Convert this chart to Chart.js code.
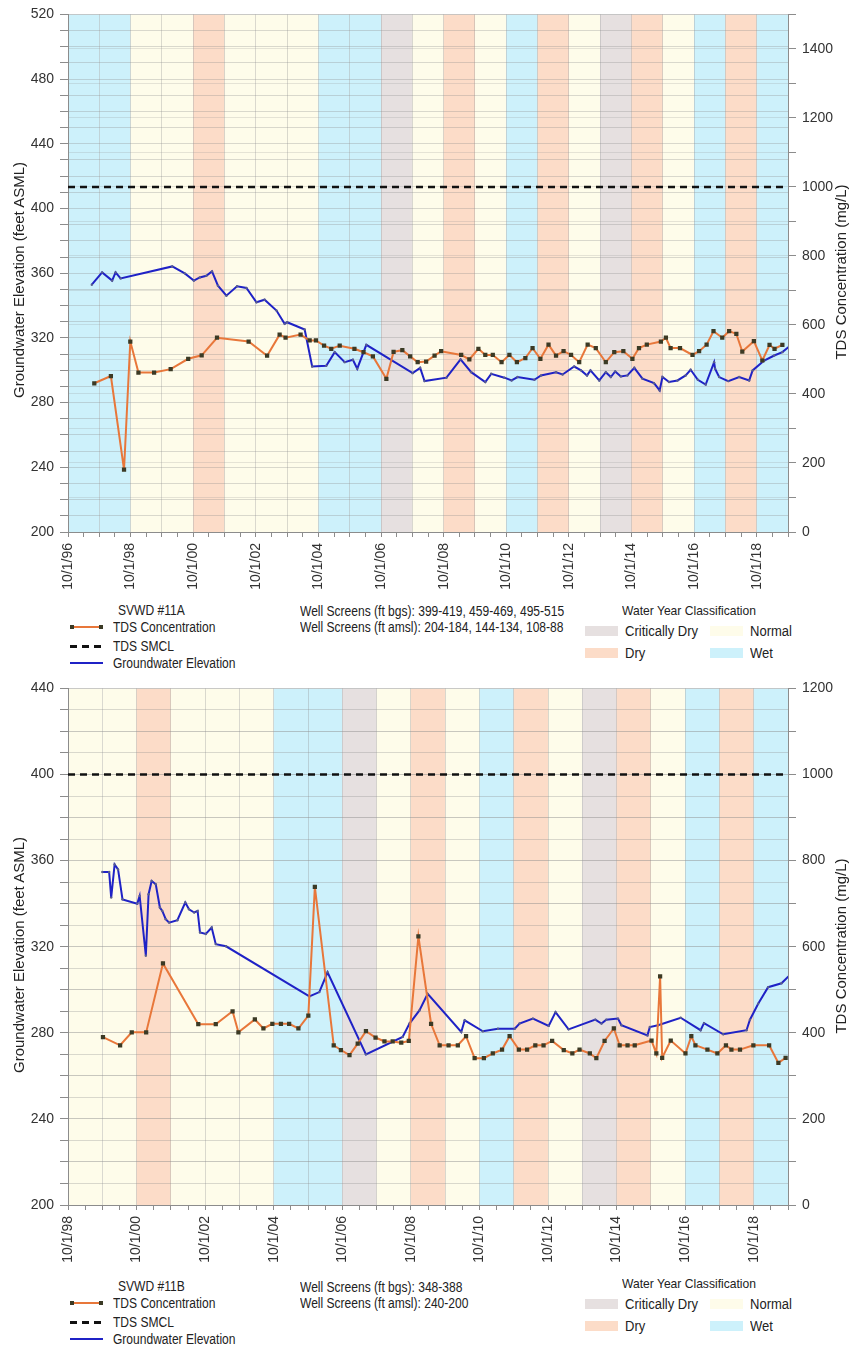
<!DOCTYPE html>
<html>
<head>
<meta charset="utf-8">
<title>SVWD #11A / #11B</title>
<script src="https://cdn.jsdelivr.net/npm/chart.js@4.4.1/dist/chart.umd.min.js"></script>
<style>
  body { margin: 0; background: #fff; }
  #page { position: relative; width: 855px; height: 1349px; overflow: hidden; font-family: "Liberation Sans", Arial, sans-serif; color: #222; }
  .plot { position: absolute; left: 0; width: 855px; height: 600px; }
  .axis-title { position: absolute; white-space: nowrap; font-size: 15px; transform: translate(-50%, -50%) rotate(-90deg); }
  /* the legend text in the original is a condensed face */
  .lg { position: absolute; font-family: "Liberation Sans", Arial, sans-serif; font-size: 14px; line-height: 16px; white-space: nowrap; color: #222;
        transform: scaleX(0.86); transform-origin: 0 50%; }
  .lg.wide { transform: scaleX(0.93); }
  .sw { position: absolute; }
</style>
</head>
<body>
<div id="page">
  <div class="plot" style="top:0"><canvas id="chartA"></canvas></div>
  <div class="plot" style="top:674px"><canvas id="chartB"></canvas></div>
</div>
<script>
// water years run 10/1 of the previous year to 9/30 of this year
const waterYears = [1997, 1998, 1999, 2000, 2001, 2002, 2003, 2004, 2005, 2006, 2007, 2008,
                    2009, 2010, 2011, 2012, 2013, 2014, 2015, 2016, 2017, 2018, 2019];
const waterYearClass = ['Wet', 'Wet', 'Normal', 'Normal', 'Dry', 'Normal', 'Normal', 'Normal',
                        'Wet', 'Wet', 'Critically Dry', 'Normal', 'Dry', 'Normal', 'Wet', 'Dry',
                        'Normal', 'Critically Dry', 'Dry', 'Normal', 'Wet', 'Dry', 'Wet'];

const tdsSmcl = 1000;

// SVWD #11A  (dates as decimal years)
const tdsDatesA = [1997.59, 1998.12, 1998.54, 1998.74, 1999.00, 1999.50, 2000.03, 2000.59, 2001.02, 2001.51,
                   2002.52, 2003.11, 2003.51, 2003.70, 2004.18, 2004.47, 2004.67, 2004.93, 2005.16, 2005.43,
                   2005.90, 2006.19, 2006.49, 2006.92, 2007.15, 2007.43, 2007.68, 2007.92, 2008.19, 2008.46,
                   2008.67, 2009.31, 2009.57, 2009.86, 2010.08, 2010.32, 2010.60, 2010.85, 2011.09, 2011.36,
                   2011.59, 2011.84, 2012.10, 2012.34, 2012.58, 2012.82, 2013.08, 2013.35, 2013.61, 2013.93,
                   2014.20, 2014.49, 2014.78, 2014.99, 2015.24, 2015.69, 2015.85, 2016.00, 2016.30, 2016.70,
                   2016.91, 2017.15, 2017.37, 2017.65, 2017.87, 2018.10, 2018.29, 2018.66, 2018.93, 2019.16,
                   2019.32, 2019.57];
const tdsValuesA = [431, 452, 181, 552, 462, 462, 472, 502, 512, 563,
                    552, 511, 572, 563, 572, 555, 555, 540, 531, 540,
                    531, 521, 509, 444, 522, 527, 509, 492, 494, 511,
                    524, 513, 500, 531, 513, 513, 492, 513, 492, 504,
                    533, 502, 543, 511, 524, 513, 492, 543, 533, 492,
                    521, 524, 502, 533, 543, 552, 563, 533, 533, 513,
                    524, 543, 582, 563, 582, 574, 523, 553, 497, 542,
                    531, 542];
const gweDatesA = [1997.51, 1997.84, 1998.16, 1998.27, 1998.43, 2000.08, 2000.48, 2000.77, 2000.96, 2001.17,
                   2001.35, 2001.54, 2001.81, 2002.15, 2002.45, 2002.77, 2003.03, 2003.41, 2003.67, 2003.75,
                   2004.31, 2004.55, 2005.00, 2005.27, 2005.59, 2005.85, 2005.99, 2006.28, 2007.76, 2008.00,
                   2008.14, 2008.84, 2009.29, 2009.63, 2010.08, 2010.27, 2010.69, 2010.92, 2011.11, 2011.65,
                   2011.86, 2012.34, 2012.55, 2012.92, 2013.14, 2013.33, 2013.44, 2013.72, 2013.93, 2014.09,
                   2014.23, 2014.41, 2014.62, 2014.84, 2015.10, 2015.47, 2015.65, 2015.74, 2015.95, 2016.22,
                   2016.48, 2016.64, 2016.87, 2017.12, 2017.39, 2017.42, 2017.55, 2017.84, 2018.19, 2018.51,
                   2018.62, 2018.99, 2019.31, 2019.57, 2019.79];
const gweValuesA = [352.9, 360.5, 355.4, 360.5, 356.8, 364.2, 359.9, 355.4, 357.4, 358.4,
                    361.1, 352.3, 346.1, 351.9, 350.9, 342.0, 343.6, 336.9, 328.7, 329.7,
                    325.2, 302.3, 302.8, 311.2, 305.0, 306.5, 301.0, 315.7, 298.2, 301.5,
                    293.3, 295.4, 306.7, 298.8, 292.7, 297.8, 295.4, 293.7, 295.8, 294.1,
                    296.8, 298.8, 297.4, 302.3, 299.9, 296.8, 299.9, 293.7, 298.8, 295.8,
                    299.3, 296.2, 296.8, 301.5, 294.8, 292.0, 287.5, 295.8, 292.7, 293.7,
                    296.8, 300.3, 294.1, 291.2, 305.0, 301.0, 295.8, 293.3, 295.8, 293.7,
                    299.9, 306.0, 309.1, 311.2, 314.7];

// SVWD #11B
const tdsDatesB = [1999.77, 2000.27, 2000.61, 2001.03, 2001.52, 2002.55, 2003.06, 2003.55, 2003.72, 2004.20,
                   2004.45, 2004.71, 2004.96, 2005.20, 2005.47, 2005.76, 2005.95, 2006.50, 2006.71, 2006.96,
                   2007.20, 2007.44, 2007.72, 2007.98, 2008.22, 2008.47, 2008.69, 2008.97, 2009.34, 2009.59,
                   2009.85, 2010.12, 2010.36, 2010.61, 2010.88, 2011.14, 2011.41, 2011.63, 2011.90, 2012.14,
                   2012.38, 2012.62, 2012.87, 2013.21, 2013.46, 2013.67, 2013.97, 2014.16, 2014.40, 2014.67,
                   2014.84, 2015.07, 2015.28, 2015.77, 2015.91, 2016.02, 2016.08, 2016.33, 2016.76, 2016.93,
                   2017.05, 2017.40, 2017.69, 2017.94, 2018.10, 2018.35, 2018.74, 2019.20, 2019.47, 2019.68];
const tdsValuesB = [390, 371, 401, 401, 561, 420, 420, 450, 401, 431,
                    410, 421, 421, 421, 410, 440, 739, 371, 360, 348,
                    375, 404, 389, 380, 380, 377, 381, 624, 421, 371,
                    371, 371, 392, 341, 341, 352, 361, 392, 361, 361,
                    371, 371, 381, 360, 352, 361, 352, 341, 381, 410,
                    371, 371, 371, 382, 352, 531, 342, 382, 352, 392,
                    371, 361, 352, 371, 361, 361, 371, 371, 330, 342];
const gweDatesB = [1999.75, 1999.95, 2000.01, 2000.11, 2000.21, 2000.34, 2000.77, 2000.84, 2001.02, 2001.10,
                   2001.19, 2001.31, 2001.43, 2001.50, 2001.60, 2001.70, 2001.94, 2002.17, 2002.28, 2002.43,
                   2002.53, 2002.60, 2002.77, 2002.94, 2003.06, 2003.36, 2005.79, 2006.08, 2006.32, 2007.44,
                   2008.51, 2008.71, 2009.00, 2009.24, 2010.22, 2010.32, 2010.85, 2011.29, 2011.78, 2011.92,
                   2012.31, 2012.77, 2012.97, 2013.35, 2014.13, 2014.31, 2014.45, 2014.79, 2014.89, 2015.65,
                   2015.72, 2015.96, 2016.62, 2017.20, 2017.30, 2017.86, 2018.54, 2018.64, 2018.88, 2019.17,
                   2019.56, 2019.86];
const gweValuesB = [354.7, 354.7, 342.8, 358.2, 355.9, 342.0, 340.0, 343.6, 315.8, 344.4,
                    350.5, 349.0, 338.2, 336.6, 332.8, 331.2, 332.3, 340.5, 337.4, 335.9,
                    336.6, 326.6, 325.9, 328.9, 321.2, 320.2, 296.9, 298.9, 308.1, 270.0,
                    278.1, 284.3, 290.4, 298.1, 280.4, 285.8, 280.7, 281.9, 281.9, 284.3,
                    286.6, 283.2, 289.6, 281.6, 286.1, 284.3, 286.1, 286.6, 283.5, 278.8,
                    282.7, 283.5, 287.0, 281.2, 284.5, 279.3, 281.2, 286.1, 293.5, 301.2,
                    303.0, 307.7];

const classColors = { 'Wet': '#cdf1fb', 'Normal': '#fefcea', 'Dry': '#fcdcc8', 'Critically Dry': '#e6e0e0' };
const gridCol = 'rgba(140,140,140,0.32)';
const axisCol = '#8c8c8c';

Chart.defaults.font.family = '"Liberation Sans", Arial, sans-serif';
Chart.defaults.color = '#333';

const waterYearBands = {
  id: 'waterYearBands',
  beforeDraw(chart) {
    const {ctx, chartArea: a, scales: {x}} = chart;
    ctx.save();
    ctx.beginPath();
    ctx.rect(a.left, a.top, a.width, a.height);
    ctx.clip();
    waterYears.forEach((wy, i) => {
      const x0 = x.getPixelForValue(wy - 0.25);
      const x1 = x.getPixelForValue(wy + 0.75);
      ctx.fillStyle = classColors[waterYearClass[i]];
      ctx.fillRect(x0, a.top, x1 - x0, a.height);
    });
    ctx.restore();
  }
};

function stepTicks(min, max, step) {
  const ticks = [];
  const n = Math.round((max - min) / step);
  for (let i = 0; i <= n; i++) ticks.push({value: +(min + i * step).toFixed(4)});
  return ticks;
}

function isWholeYear(v) {
  return Math.abs((v - 0.75) - Math.round(v - 0.75)) < 1e-6;
}

function toPoints(dates, values) {
  return dates.map((d, i) => ({x: d, y: values[i]}));
}

function makeChart(id, opt) {
  const datasets = [
    {
      label: 'TDS SMCL', yAxisID: 'y1',
      data: [{x: opt.xStart, y: tdsSmcl}, {x: opt.xEnd, y: tdsSmcl}],
      borderColor: '#111', borderWidth: 2.5, borderDash: [7, 5], pointRadius: 0
    },
    {
      label: 'TDS Concentration', yAxisID: 'y1',
      data: toPoints(opt.tdsDates, opt.tdsValues),
      borderColor: '#e8773a', borderWidth: 2, tension: 0,
      pointStyle: 'rect', pointRadius: 3, pointBorderWidth: 0, pointBackgroundColor: '#3b3a25'
    },
    {
      label: 'Groundwater Elevation', yAxisID: 'y',
      data: toPoints(opt.gweDates, opt.gweValues),
      borderColor: '#1f22c6', borderWidth: 2, tension: 0,
      pointRadius: 1.2, pointBorderWidth: 0, pointBackgroundColor: '#5a5f8e'
    }
  ];

  return new Chart(document.getElementById(id), {
    type: 'line',
    data: {datasets: datasets},
    plugins: [waterYearBands],
    options: {
      responsive: true, maintainAspectRatio: false, animation: false,
      layout: {padding: {top: 13, left: 0, right: 0, bottom: 0}},
      plugins: {legend: {display: false}, tooltip: {enabled: false}},
      scales: {
        x: {
          type: 'linear', min: opt.xStart, max: opt.xEnd,
          afterBuildTicks: s => { s.ticks = stepTicks(opt.xStart, opt.xEnd, 0.5); },
          afterFit: s => { s.height = opt.xAxisHeight; },
          grid: {color: c => isWholeYear(c.tick.value) ? gridCol : 'rgba(0,0,0,0)', tickColor: axisCol, tickLength: 5},
          border: {color: axisCol},
          ticks: {
            autoSkip: false, minRotation: 90, maxRotation: 90, padding: 6, font: {size: 14},
            callback: v => {
              const k = (v - opt.xStart) / 2;
              if (Math.abs(k - Math.round(k)) > 1e-6) return '';
              return '10/1/' + String(Math.round(v - 0.75)).slice(2);
            }
          }
        },
        y: {
          position: 'left', min: opt.yMin, max: opt.yMax,
          afterBuildTicks: s => { s.ticks = stepTicks(opt.yMin, opt.yMax, 10); },
          afterFit: s => { s.width = 68; },
          grid: {color: gridCol, tickColor: axisCol, tickLength: 8},
          border: {color: axisCol},
          ticks: {autoSkip: false, padding: 6, font: {size: 14},
                  callback: v => (Math.round(v - opt.yMin) % 40 === 0 ? v : '')}
        },
        y1: {
          position: 'right', min: 0, max: opt.y1Max,
          afterBuildTicks: s => { s.ticks = stepTicks(0, opt.y1Max, 100); },
          afterFit: s => { s.width = 67; },
          grid: {color: 'rgba(140,140,140,0.22)', tickColor: axisCol, tickLength: 8},
          border: {color: axisCol},
          ticks: {autoSkip: false, padding: 6, font: {size: 14},
                  callback: v => (Math.round(v) % 200 === 0 ? v : '')}
        }
      }
    }
  });
}

makeChart('chartA', {
  xStart: 1996.75, xEnd: 2019.75, yMin: 200, yMax: 520, y1Max: 1500, xAxisHeight: 68,
  tdsDates: tdsDatesA, tdsValues: tdsValuesA, gweDates: gweDatesA, gweValues: gweValuesA
});
makeChart('chartB', {
  xStart: 1998.75, xEnd: 2019.75, yMin: 200, yMax: 440, y1Max: 1200, xAxisHeight: 69,
  tdsDates: tdsDatesB, tdsValues: tdsValuesB, gweDates: gweDatesB, gweValues: gweValuesB
});

// axis titles and the legend block under each chart
const page = document.getElementById('page');
function el(cls, css, text) {
  const d = document.createElement('div');
  d.className = cls;
  d.style.cssText = css;
  if (text) d.textContent = text;
  page.appendChild(d);
  return d;
}

function addTitles(midLeft, midRight) {
  el('axis-title', `left:18px;top:${midLeft}px`, 'Groundwater Elevation (feet ASML)');
  el('axis-title', `left:840px;top:${midRight}px`, 'TDS Concentration (mg/L)');
}

function addLegend(top, well, screens, wyTop) {
  el('lg', `left:118px;top:${top + 2}px`, well);
  el('sw', `left:70px;top:${top + 26}px;width:33px;height:2px;background:#e8773a`);
  el('sw', `left:70px;top:${top + 25}px;width:4px;height:4px;background:#3b3a25`);
  el('sw', `left:99px;top:${top + 25}px;width:4px;height:4px;background:#3b3a25`);
  el('lg', `left:113px;top:${top + 19}px`, 'TDS Concentration');
  el('sw', `left:70px;top:${top + 45}px;width:33px;height:2.5px;background:repeating-linear-gradient(90deg,#111 0 7px,transparent 7px 12px)`);
  el('lg', `left:113px;top:${top + 38}px`, 'TDS SMCL');
  el('sw', `left:70px;top:${top + 62}px;width:33px;height:2px;background:#1f22c6`);
  el('lg', `left:113px;top:${top + 55}px`, 'Groundwater Elevation');

  el('lg', `left:300px;top:${top + 3}px`, screens[0]);
  el('lg', `left:300px;top:${top + 19}px`, screens[1]);

  const w = wyTop;
  el('lg wide', `left:622px;top:${w + 3}px;font-size:13px`, 'Water Year Classification');
  el('sw', `left:585px;top:${w + 26}px;width:33px;height:10px;background:${classColors['Critically Dry']}`);
  el('lg wide', `left:625px;top:${w + 23}px`, 'Critically Dry');
  el('sw', `left:710px;top:${w + 26}px;width:33px;height:10px;background:${classColors['Normal']}`);
  el('lg wide', `left:750px;top:${w + 23}px`, 'Normal');
  el('sw', `left:585px;top:${w + 48}px;width:33px;height:10px;background:${classColors['Dry']}`);
  el('lg wide', `left:625px;top:${w + 45}px`, 'Dry');
  el('sw', `left:710px;top:${w + 48}px;width:33px;height:10px;background:${classColors['Wet']}`);
  el('lg wide', `left:750px;top:${w + 45}px`, 'Wet');
}

addTitles(280, 272);
addTitles(955, 946);
addLegend(600, 'SVWD #11A', ['Well Screens (ft bgs): 399-419, 459-469, 495-515',
                             'Well Screens (ft amsl): 204-184, 144-134, 108-88'], 600);
addLegend(1276, 'SVWD #11B', ['Well Screens (ft bgs): 348-388',
                              'Well Screens (ft amsl): 240-200'], 1273);
</script>
</body>
</html>
